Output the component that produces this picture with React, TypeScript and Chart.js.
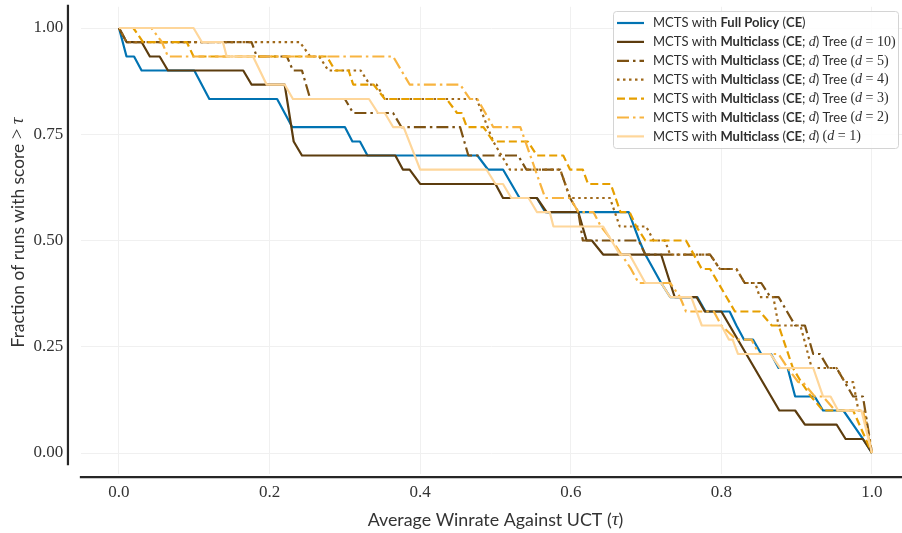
import React, { useEffect, useRef } from 'react';
import { Chart, registerables } from 'chart.js';

Chart.register(...registerables);

// ---------- data (x = average winrate tau, y = fraction of runs with score > tau) ----------
const xTicks = [0, 0.2, 0.4, 0.6, 0.8, 1.0];
const yTicks = [0, 0.25, 0.5, 0.75, 1.0];

const fullPolicy: [number, number][] = [
  [0, 1], [0.01, 0.933], [0.02, 0.933], [0.03, 0.9], [0.1, 0.9], [0.12, 0.833], [0.21, 0.833],
  [0.23, 0.767], [0.3, 0.767], [0.31, 0.733], [0.32, 0.733], [0.33, 0.7], [0.476, 0.7], [0.49, 0.667],
  [0.51, 0.667], [0.532, 0.6], [0.555, 0.6], [0.566, 0.567], [0.677, 0.567], [0.691, 0.5], [0.699, 0.467],
  [0.72, 0.4], [0.732, 0.367], [0.768, 0.367], [0.779, 0.333], [0.811, 0.333], [0.82, 0.3], [0.83, 0.267],
  [0.842, 0.267], [0.853, 0.233], [0.866, 0.233], [0.876, 0.2], [0.888, 0.2], [0.898, 0.133], [0.924, 0.133],
  [0.935, 0.1], [0.962, 0.1], [0.975, 0.067], [0.988, 0.033], [1, 0],
];

const treeD10: [number, number][] = [
  [0, 1], [0.01, 0.967], [0.03, 0.967], [0.041, 0.933], [0.054, 0.933], [0.065, 0.9], [0.165, 0.9],
  [0.176, 0.867], [0.22, 0.867], [0.232, 0.733], [0.243, 0.7], [0.367, 0.7], [0.377, 0.667], [0.386, 0.667],
  [0.4, 0.633], [0.5, 0.633], [0.51, 0.6], [0.555, 0.6], [0.568, 0.567], [0.61, 0.567], [0.621, 0.5],
  [0.628, 0.5], [0.643, 0.467], [0.72, 0.467], [0.732, 0.4], [0.738, 0.367], [0.767, 0.367], [0.778, 0.333],
  [0.8, 0.333], [0.877, 0.1], [0.898, 0.1], [0.911, 0.067], [0.953, 0.067], [0.965, 0.033], [0.988, 0.033],
  [1, 0],
];

const treeD5: [number, number][] = [
  [0, 1], [0.01, 0.967], [0.176, 0.967], [0.183, 0.933], [0.223, 0.933], [0.231, 0.9], [0.243, 0.9],
  [0.254, 0.833], [0.3, 0.833], [0.311, 0.8], [0.364, 0.8], [0.375, 0.767], [0.453, 0.767], [0.464, 0.7],
  [0.53, 0.7], [0.541, 0.667], [0.586, 0.667], [0.599, 0.6], [0.61, 0.567], [0.616, 0.5], [0.69, 0.5],
  [0.699, 0.467], [0.785, 0.467], [0.798, 0.433], [0.82, 0.433], [0.831, 0.4], [0.853, 0.4], [0.865, 0.367],
  [0.876, 0.367], [0.898, 0.3], [0.911, 0.3], [0.922, 0.233], [0.931, 0.233], [0.942, 0.2], [0.953, 0.2],
  [0.975, 0.133], [0.988, 0.133], [1, 0],
];

const treeD4: [number, number][] = [
  [0, 1], [0.01, 0.967], [0.24, 0.967], [0.254, 0.933], [0.266, 0.933], [0.278, 0.9], [0.321, 0.9],
  [0.333, 0.867], [0.342, 0.867], [0.353, 0.833], [0.475, 0.833], [0.497, 0.733], [0.519, 0.667],
  [0.586, 0.667], [0.599, 0.6], [0.652, 0.6], [0.665, 0.533], [0.7, 0.533], [0.71, 0.5], [0.725, 0.5],
  [0.732, 0.467], [0.785, 0.467], [0.798, 0.433], [0.82, 0.433], [0.831, 0.4], [0.845, 0.4], [0.851, 0.367],
  [0.869, 0.367], [0.876, 0.3], [0.905, 0.3], [0.92, 0.2], [0.953, 0.2], [0.964, 0.167], [0.975, 0.167],
  [0.982, 0.1], [0.99, 0.1], [1, 0],
];

const treeD3: [number, number][] = [
  [0, 1], [0.019, 1], [0.032, 0.967], [0.09, 0.967], [0.099, 0.933], [0.276, 0.933], [0.287, 0.9],
  [0.305, 0.9], [0.311, 0.867], [0.338, 0.867], [0.353, 0.833], [0.435, 0.833], [0.449, 0.8], [0.455, 0.8],
  [0.462, 0.767], [0.484, 0.767], [0.497, 0.733], [0.543, 0.733], [0.555, 0.7], [0.59, 0.7], [0.599, 0.667],
  [0.616, 0.667], [0.623, 0.633], [0.653, 0.633], [0.666, 0.567], [0.678, 0.567], [0.687, 0.533],
  [0.699, 0.5], [0.753, 0.5], [0.774, 0.433], [0.785, 0.433], [0.818, 0.333], [0.851, 0.333], [0.867, 0.3],
  [0.876, 0.3], [0.895, 0.2], [0.906, 0.167], [0.919, 0.133], [0.935, 0.1], [0.975, 0.1], [1, 0],
];

const treeD2: [number, number][] = [
  [0, 1], [0.043, 1], [0.057, 0.967], [0.065, 0.933], [0.364, 0.933], [0.386, 0.867], [0.453, 0.867],
  [0.466, 0.833], [0.476, 0.833], [0.497, 0.767], [0.533, 0.767], [0.566, 0.6], [0.599, 0.6], [0.61, 0.567],
  [0.63, 0.567], [0.64, 0.533], [0.655, 0.5], [0.68, 0.433], [0.69, 0.4], [0.732, 0.4], [0.745, 0.367],
  [0.753, 0.333], [0.79, 0.333], [0.8, 0.3], [0.82, 0.267], [0.84, 0.267], [0.85, 0.233], [0.876, 0.233],
  [0.888, 0.2], [0.902, 0.167], [0.908, 0.167], [0.924, 0.133], [0.935, 0.133], [0.951, 0.1], [0.988, 0.1],
  [1, 0],
];

const multiclassD1: [number, number][] = [
  [0, 1], [0.099, 1], [0.11, 0.967], [0.138, 0.967], [0.143, 0.933], [0.178, 0.933], [0.196, 0.867],
  [0.22, 0.867], [0.231, 0.833], [0.332, 0.833], [0.344, 0.8], [0.353, 0.8], [0.364, 0.767], [0.378, 0.767],
  [0.4, 0.667], [0.488, 0.667], [0.5, 0.633], [0.51, 0.633], [0.521, 0.6], [0.544, 0.6], [0.555, 0.567],
  [0.572, 0.567], [0.577, 0.533], [0.643, 0.533], [0.665, 0.467], [0.678, 0.467], [0.699, 0.4], [0.72, 0.4],
  [0.732, 0.367], [0.76, 0.367], [0.774, 0.3], [0.8, 0.3], [0.81, 0.267], [0.815, 0.267], [0.822, 0.233],
  [0.865, 0.233], [0.878, 0.2], [0.922, 0.2], [0.935, 0.133], [0.945, 0.133], [0.955, 0.1], [0.986, 0.1],
  [1, 0],
];

type Seg = [string, 'n' | 'b' | 'm' | 'r'];

const legendLabels: Seg[][] = [
  [['MCTS with ', 'n'], ['Full Policy', 'b'], [' (', 'n'], ['CE', 'b'], [')', 'n']],
  [['MCTS with ', 'n'], ['Multiclass', 'b'], [' (', 'n'], ['CE', 'b'], ['; ', 'n'], ['d', 'm'], [') Tree ', 'n'], ['(', 'r'], ['d', 'm'], [' = 10)', 'r']],
  [['MCTS with ', 'n'], ['Multiclass', 'b'], [' (', 'n'], ['CE', 'b'], ['; ', 'n'], ['d', 'm'], [') Tree ', 'n'], ['(', 'r'], ['d', 'm'], [' = 5)', 'r']],
  [['MCTS with ', 'n'], ['Multiclass', 'b'], [' (', 'n'], ['CE', 'b'], ['; ', 'n'], ['d', 'm'], [') Tree ', 'n'], ['(', 'r'], ['d', 'm'], [' = 4)', 'r']],
  [['MCTS with ', 'n'], ['Multiclass', 'b'], [' (', 'n'], ['CE', 'b'], ['; ', 'n'], ['d', 'm'], [') Tree ', 'n'], ['(', 'r'], ['d', 'm'], [' = 3)', 'r']],
  [['MCTS with ', 'n'], ['Multiclass', 'b'], [' (', 'n'], ['CE', 'b'], ['; ', 'n'], ['d', 'm'], [') Tree ', 'n'], ['(', 'r'], ['d', 'm'], [' = 2)', 'r']],
  [['MCTS with ', 'n'], ['Multiclass', 'b'], [' (', 'n'], ['CE', 'b'], ['; ', 'n'], ['d', 'm'], [') ', 'n'], ['(', 'r'], ['d', 'm'], [' = 1)', 'r']],
];

const plainLabels = [
  'MCTS with Full Policy (CE)',
  'MCTS with Multiclass (CE; d) Tree (d = 10)',
  'MCTS with Multiclass (CE; d) Tree (d = 5)',
  'MCTS with Multiclass (CE; d) Tree (d = 4)',
  'MCTS with Multiclass (CE; d) Tree (d = 3)',
  'MCTS with Multiclass (CE; d) Tree (d = 2)',
  'MCTS with Multiclass (CE; d) (d = 1)',
];

const xTitle: Seg[] = [['Average Winrate Against UCT (', 'n'], ['τ', 'm'], [')', 'n']];
const yTitle: Seg[] = [['Fraction of runs with score ', 'n'], ['>', 'r'], [' ', 'n'], ['τ', 'm']];

// ---------- styles ----------
const seriesData = [fullPolicy, treeD10, treeD5, treeD4, treeD3, treeD2, multiclassD1];
const colors = ['#0173b2', '#5c3c0e', '#7d5213', '#a0691a', '#e69f00', '#f8b440', '#fed69a'];
const dashes: number[][] = [[], [], [12, 4, 2.5, 4], [2.5, 3.5], [8, 4], [12, 4, 2.5, 4], []];

const SANS = 'Lato, "DejaVu Sans", sans-serif';
const SERIF = '"Liberation Serif", "DejaVu Serif", serif';

function segFont(kind: Seg[1], s: number) {
  if (kind === 'b') return `bold ${s}px ${SANS}`;
  if (kind === 'm') return `italic ${(s * 1.08).toFixed(2)}px ${SERIF}`;
  if (kind === 'r') return `${(s * 1.08).toFixed(2)}px ${SERIF}`;
  return `${s}px ${SANS}`;
}

function segWidth(ctx: CanvasRenderingContext2D, segs: Seg[], s: number) {
  let w = 0;
  for (const [t, k] of segs) {
    ctx.font = segFont(k, s);
    w += ctx.measureText(t).width;
  }
  return w;
}

function drawSegs(ctx: CanvasRenderingContext2D, segs: Seg[], x: number, y: number, s: number) {
  let cx = x;
  for (const [t, k] of segs) {
    ctx.font = segFont(k, s);
    ctx.fillText(t, cx, y);
    cx += ctx.measureText(t).width;
  }
}

function fitSize(ctx: CanvasRenderingContext2D, segs: Seg[], target: number) {
  const w = segWidth(ctx, segs, 20);
  return (20 * target) / w;
}

const decorPlugin = {
  id: 'decor',
  afterDraw(chart: any) {
    const ctx: CanvasRenderingContext2D = chart.ctx;
    const a = chart.chartArea;
    const xs = chart.scales.x;
    const ys = chart.scales.y;
    ctx.save();

    // offset spines
    ctx.strokeStyle = '#262626';
    ctx.lineWidth = 2.2;
    ctx.lineCap = 'butt';
    ctx.beginPath();
    ctx.moveTo(a.left - 13.4, a.top - 2);
    ctx.lineTo(a.left - 13.4, a.bottom - 9);
    ctx.stroke();
    ctx.beginPath();
    ctx.moveTo(a.left - 1.5, a.bottom + 2.9);
    ctx.lineTo(chart.width, a.bottom + 2.9);
    ctx.stroke();

    // axis titles
    ctx.fillStyle = '#333333';
    ctx.textBaseline = 'middle';
    const xs0 = fitSize(ctx, xTitle, 256);
    const xw = segWidth(ctx, xTitle, xs0);
    const xc = (xs.getPixelForValue(0) + xs.getPixelForValue(1)) / 2;
    drawSegs(ctx, xTitle, xc - xw / 2, a.bottom + 46, xs0);

    const ys0 = fitSize(ctx, yTitle, 230);
    const yw = segWidth(ctx, yTitle, ys0);
    const yc = (ys.getPixelForValue(0) + ys.getPixelForValue(1)) / 2 - 8;
    ctx.save();
    ctx.translate(18.5, yc);
    ctx.rotate(-Math.PI / 2);
    drawSegs(ctx, yTitle, -yw / 2, 0, ys0);
    ctx.restore();

    // legend
    const right = chart.width - 4;
    const left = right - 285;
    const top = 11;
    const bottom = 148;
    ctx.fillStyle = 'rgba(255,255,255,0.85)';
    ctx.strokeStyle = '#d4d4d4';
    ctx.lineWidth = 1;
    ctx.beginPath();
    if ((ctx as any).roundRect) (ctx as any).roundRect(left + 0.5, top + 0.5, right - left, bottom - top, 3);
    else ctx.rect(left + 0.5, top + 0.5, right - left, bottom - top);
    ctx.fill();
    ctx.stroke();

    const ls = fitSize(ctx, legendLabels[1], 243);
    chart.data.datasets.forEach((ds: any, i: number) => {
      const ry = 23 + i * 18.9;
      ctx.save();
      ctx.strokeStyle = ds.borderColor;
      ctx.lineWidth = 2.2;
      ctx.setLineDash(ds.borderDash || []);
      ctx.beginPath();
      ctx.moveTo(left + 4, ry);
      ctx.lineTo(left + 31, ry);
      ctx.stroke();
      ctx.restore();
      ctx.fillStyle = '#2e2e2e';
      ctx.textBaseline = 'middle';
      drawSegs(ctx, legendLabels[i], left + 40, ry, ls);
    });

    ctx.restore();
  },
};

export default function App() {
  const ref = useRef<HTMLCanvasElement | null>(null);

  useEffect(() => {
    if (!ref.current) return;
    const chart = new Chart(ref.current, {
      type: 'line',
      data: {
        datasets: seriesData.map((s, i) => ({
          label: plainLabels[i],
          data: s.map(([x, y]) => ({ x, y })),
          borderColor: colors[i],
          backgroundColor: colors[i],
          borderWidth: 2.2,
          borderDash: dashes[i],
          borderCapStyle: 'butt' as const,
          borderJoinStyle: 'round' as const,
          pointRadius: 0,
          tension: 0,
          fill: false,
          order: seriesData.length - i,
        })),
      },
      options: {
        animation: false,
        responsive: false,
        devicePixelRatio: 1,
        layout: { padding: { left: 0, right: 0, top: 6.75, bottom: 0 } },
        plugins: { legend: { display: false }, tooltip: { enabled: false } },
        scales: {
          x: {
            type: 'linear',
            min: -0.05,
            max: 1.0399,
            afterFit: (s: any) => { s.height = 58.75; s.paddingLeft = 0; s.paddingRight = 0; },
            afterBuildTicks: (s: any) => { s.ticks = xTicks.map((v) => ({ value: v })); },
            grid: { color: '#f0f0f0', lineWidth: 1, drawTicks: false },
            border: { display: false },
            ticks: {
              padding: 8,
              color: '#333333',
              font: { family: '"Liberation Serif", serif', size: 17 },
              callback: (v: any) => Number(v).toFixed(1),
              maxRotation: 0,
            },
          },
          y: {
            type: 'linear',
            min: -0.05,
            max: 1.05,
            afterFit: (s: any) => { s.width = 81.35; s.paddingTop = 0; s.paddingBottom = 0; },
            afterBuildTicks: (s: any) => { s.ticks = yTicks.map((v) => ({ value: v })); },
            grid: { color: '#f0f0f0', lineWidth: 1, drawTicks: false },
            border: { display: false },
            ticks: {
              padding: 18,
              color: '#333333',
              font: { family: '"Liberation Serif", serif', size: 17 },
              callback: (v: any) => Number(v).toFixed(2),
            },
          },
        },
      },
      plugins: [decorPlugin],
    });
    return () => chart.destroy();
  }, []);

  return (
    <div style={{ position: 'absolute', left: 0, top: 0, width: 902, height: 533, background: '#ffffff' }}>
      <canvas ref={ref} width={902} height={533} style={{ display: 'block', width: 902, height: 533 }} />
    </div>
  );
}
